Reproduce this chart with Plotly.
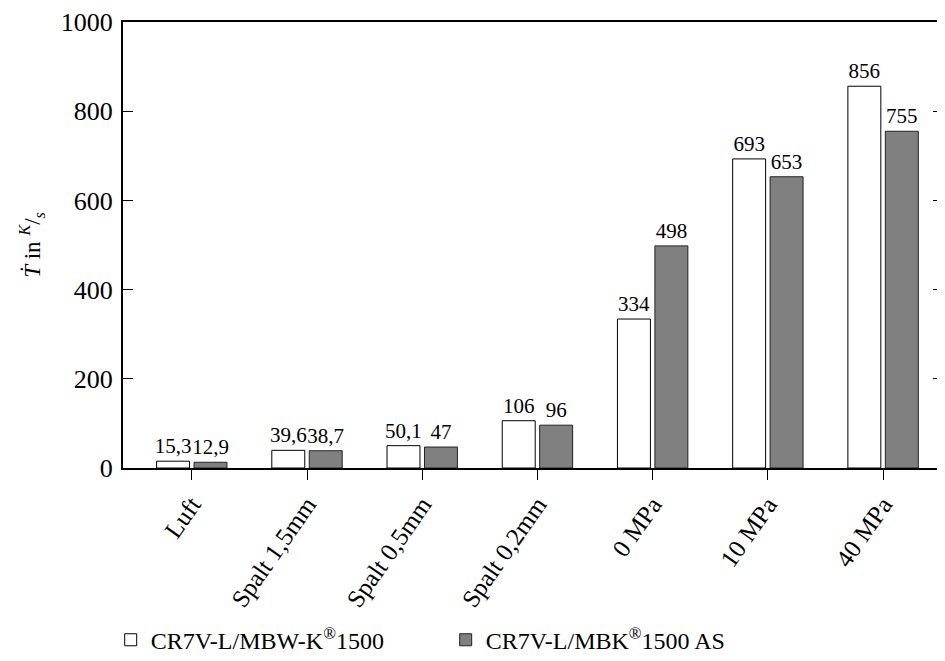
import plotly.graph_objects as go

categories = ["Luft", "Spalt 1,5mm", "Spalt 0,5mm", "Spalt 0,2mm", "0 MPa", "10 MPa", "40 MPa"]
series_a_name = "CR7V-L/MBW-K<sup>®</sup>1500"
series_b_name = "CR7V-L/MBK<sup>®</sup>1500 AS"
series_a = [15.3, 39.6, 50.1, 106, 334, 693, 856]
series_b = [12.9, 38.7, 47, 96, 498, 653, 755]
y_ticks = [0, 200, 400, 600, 800, 1000]


def fmt(v):
    return f"{v:g}".replace(".", ",")


FONT = "Times New Roman, Liberation Serif, serif"
x_idx = list(range(len(categories)))

fig = go.Figure()
fig.add_trace(go.Bar(
    x=x_idx, y=series_a, name=series_a_name,
    marker=dict(color="white", line=dict(color="black", width=1)),
    text=[fmt(v) for v in series_a], textposition="outside", textangle=0,
    constraintext="none", cliponaxis=False,
    textfont=dict(family=FONT, size=21, color="black"),
))
fig.add_trace(go.Bar(
    x=x_idx, y=series_b, name=series_b_name,
    marker=dict(color="#808080", line=dict(color="#222222", width=1)),
    text=[fmt(v) for v in series_b], textposition="outside", textangle=0,
    constraintext="none", cliponaxis=False,
    textfont=dict(family=FONT, size=21, color="black"),
))

fig.update_layout(
    width=937, height=661,
    margin=dict(l=115, r=0, t=14, b=201),
    paper_bgcolor="white", plot_bgcolor="white",
    font=dict(family=FONT, size=24, color="black"),
    barmode="group", bargap=0.35, bargroupgap=0.12,
    showlegend=True,
    legend=dict(orientation="h", x=-0.015, xanchor="left", y=-0.386, yanchor="middle",
                font=dict(family=FONT, size=24, color="black"), entrywidth=290,
                itemwidth=30, bgcolor="rgba(0,0,0,0)"),
)
fig.update_xaxes(
    tickmode="array", tickvals=x_idx, ticktext=categories, tickangle=-55,
    range=[-0.597, 6.52], showline=True, linecolor="black", linewidth=2,
    mirror=True, ticks="outside", ticklen=10, tickwidth=1, tickcolor="black",
    showgrid=False, zeroline=False, tickfont=dict(family=FONT, size=25),
)
fig.update_yaxes(
    range=[0, 1000], tickvals=y_ticks, showline=True, linecolor="black", linewidth=2,
    mirror="ticks", ticks="inside", ticklen=10, tickwidth=1, tickcolor="black",
    ticklabelstandoff=3,
    showgrid=False, zeroline=False, tickfont=dict(family=FONT, size=26),
    title=dict(text="<i>Ṫ</i> in <sup><i>K</i></sup>/<sub><i>s</i></sub>", font=dict(family=FONT, size=23), standoff=14),
)

fig.write_html("out.html")
